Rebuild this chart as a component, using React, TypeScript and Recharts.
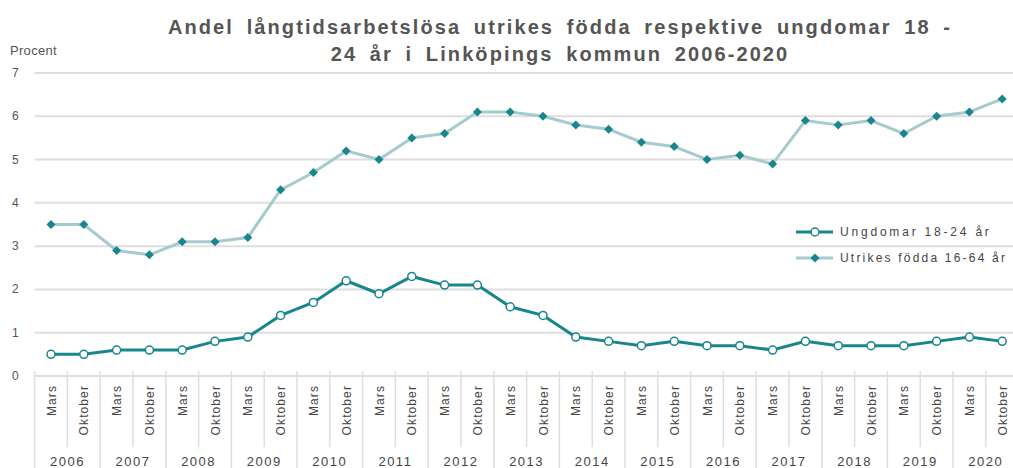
import { LineChart, Line, XAxis, YAxis, CartesianGrid } from "recharts";

const years = [
  "2006", "2007", "2008", "2009", "2010", "2011", "2012", "2013",
  "2014", "2015", "2016", "2017", "2018", "2019", "2020",
];
const months = ["Mars", "Oktober"];

const ungdomar = [
  0.5, 0.5, 0.6, 0.6, 0.6, 0.8, 0.9, 1.4, 1.7, 2.2, 1.9, 2.3, 2.1, 2.1, 1.6,
  1.4, 0.9, 0.8, 0.7, 0.8, 0.7, 0.7, 0.6, 0.8, 0.7, 0.7, 0.7, 0.8, 0.9, 0.8,
];
const utrikes = [
  3.5, 3.5, 2.9, 2.8, 3.1, 3.1, 3.2, 4.3, 4.7, 5.2, 5.0, 5.5, 5.6, 6.1, 6.1,
  6.0, 5.8, 5.7, 5.4, 5.3, 5.0, 5.1, 4.9, 5.9, 5.8, 5.9, 5.6, 6.0, 6.1, 6.4,
];
const yTicks = [0, 1, 2, 3, 4, 5, 6, 7];

const data = ungdomar.map((u, i) => ({
  period: `${months[i % 2]} ${years[Math.floor(i / 2)]}`,
  month: months[i % 2],
  year: years[Math.floor(i / 2)],
  ungdomar: u,
  utrikes: utrikes[i],
}));

const DARK = "#18868c";
const LIGHT = "#a6cbce";
const GRID = "#dedede";
const TEXT = "#555";
const FONT = "'Liberation Sans', Arial, sans-serif";

const W = 1030;
const H = 468;
const margin = { top: 73, right: 11.4, bottom: 12, left: 4.6 };
const Y_W = 30;
const X_H = 80;
const plotW = W - margin.left - margin.right - Y_W;
const band = plotW / data.length;
const plotBottom = H - margin.bottom - X_H;

const XTick = (props: any) => {
  const { x, index } = props;
  const d = data[index];
  if (!d) return null;
  const left = x - band / 2;
  const isFirst = index % 2 === 0;
  return (
    <g>
      <line x1={left} x2={left} y1={plotBottom - 5} y2={isFirst ? H : 447} stroke={GRID} strokeWidth={1.5} />
      {index === data.length - 1 && (
        <line x1={x + band / 2} x2={x + band / 2} y1={plotBottom - 5} y2={H} stroke={GRID} strokeWidth={1.5} />
      )}
      <text
        transform={`translate(${x + 4.5},${plotBottom + 9}) rotate(-90)`}
        textAnchor="end"
        fontSize={12}
        letterSpacing={1.1}
        fill="#444"
        fontFamily={FONT}
      >
        {d.month}
      </text>
      {isFirst && (
        <text x={x + band / 2} y={466} textAnchor="middle" fontSize={13} letterSpacing={1.5} fill="#444" fontFamily={FONT}>
          {d.year}
        </text>
      )}
    </g>
  );
};

const YTick = (props: any) => {
  const { y, payload } = props;
  return (
    <text x={12} y={y + 4} fontSize={12} fill={TEXT} fontFamily={FONT}>
      {payload.value}
    </text>
  );
};

const Diamond = (props: any) => {
  const { cx, cy } = props;
  if (cx == null || cy == null) return null;
  return <polygon points={`${cx},${cy - 4.5} ${cx + 4.5},${cy} ${cx},${cy + 4.5} ${cx - 4.5},${cy}`} fill={DARK} />;
};

const legendRow = { display: "flex", alignItems: "center", height: 26 } as const;

const LegendBox = () => (
  <div
    style={{
      position: "absolute",
      left: 796,
      top: 219,
      fontFamily: FONT,
      fontSize: 12,
      color: "#444",
      letterSpacing: 2.2,
      whiteSpace: "nowrap",
    }}
  >
    <div style={legendRow}>
      <svg width={44} height={12}>
        <line x1={0} x2={37} y1={6} y2={6} stroke={DARK} strokeWidth={3} />
        <circle cx={19} cy={6} r={4} fill="#fff" stroke={DARK} strokeWidth={1.5} />
      </svg>
      <span style={{ letterSpacing: 2.8 }}>Ungdomar 18-24 år</span>
    </div>
    <div style={legendRow}>
      <svg width={44} height={12}>
        <line x1={0} x2={37} y1={6} y2={6} stroke={LIGHT} strokeWidth={3} />
        <polygon points="19,1.5 23.5,6 19,10.5 14.5,6" fill={DARK} />
      </svg>
      <span>Utrikes födda 16-64 år</span>
    </div>
  </div>
);

export default function App() {
  return (
    <div style={{ position: "absolute", left: 0, top: 0, width: 1013, height: H, overflow: "hidden", background: "#fff" }}>
      <div
        style={{
          position: "absolute",
          left: 100,
          width: 920,
          top: 14,
          textAlign: "center",
          fontFamily: FONT,
          fontWeight: "bold",
          fontSize: 20,
          lineHeight: "27px",
          letterSpacing: 2.1,
          wordSpacing: 5,
          color: TEXT,
        }}
      >
        Andel långtidsarbetslösa utrikes födda respektive ungdomar 18 -
        <br />
        24 år i Linköpings kommun 2006-2020
      </div>
      <div style={{ position: "absolute", left: 10, top: 43, fontFamily: FONT, fontSize: 13, letterSpacing: 0.3, color: TEXT }}>
        Procent
      </div>
      <LineChart width={W} height={H} data={data} margin={margin}>
        <CartesianGrid vertical={false} stroke={GRID} strokeWidth={2} />
        <XAxis
          dataKey="period"
          interval={0}
          height={X_H}
          padding={{ left: band / 2, right: band / 2 }}
          tickLine={false}
          axisLine={{ stroke: GRID, strokeWidth: 2 }}
          tick={<XTick />}
        />
        <YAxis
          width={Y_W}
          domain={[0, 7]}
          ticks={yTicks}
          axisLine={false}
          tickLine={false}
          tick={<YTick />}
        />
        <Line
          dataKey="utrikes"
          name="Utrikes födda 16-64 år"
          stroke={LIGHT}
          strokeWidth={3}
          dot={<Diamond />}
          activeDot={false}
          isAnimationActive={false}
        />
        <Line
          dataKey="ungdomar"
          name="Ungdomar 18-24 år"
          stroke={DARK}
          strokeWidth={3}
          dot={{ r: 4, fill: "#fff", stroke: DARK, strokeWidth: 1.5 }}
          activeDot={false}
          isAnimationActive={false}
        />
      </LineChart>
      <LegendBox />
    </div>
  );
}
